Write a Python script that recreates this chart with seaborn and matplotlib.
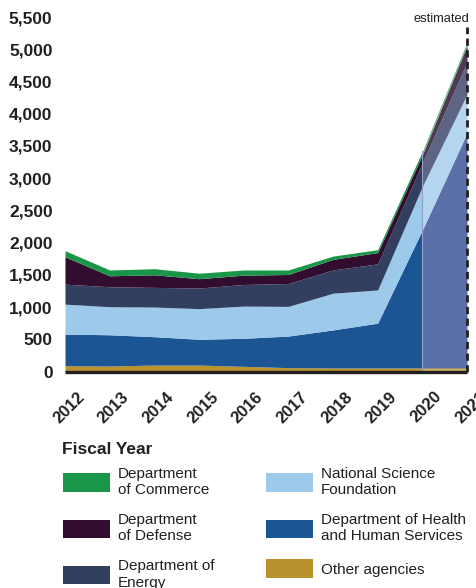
import matplotlib
matplotlib.use("Agg")
import matplotlib.pyplot as plt
import matplotlib.transforms as mtransforms
from matplotlib.patches import Patch
import numpy as np
import seaborn as sns

# Funding by agency, millions of dollars (2021 is an estimate)
years = [2012, 2013, 2014, 2015, 2016, 2017, 2018, 2019, 2020, 2021]
other_agencies = [90, 85, 100, 100, 80, 60, 55, 55, 55, 55]
hhs = [490, 485, 440, 400, 435, 490, 590, 695, 2140, 3645]
nsf = [465, 435, 460, 475, 500, 460, 570, 515, 675, 600]
energy = [310, 310, 305, 320, 335, 355, 360, 405, 365, 500]
defense = [425, 170, 195, 145, 145, 140, 165, 175, 125, 260]
commerce = [95, 90, 95, 85, 80, 70, 50, 45, 55, 50]

yticks = [0, 500, 1000, 1500, 2000, 2500, 3000, 3500, 4000, 4500, 5000, 5500]
estimate_start = 2020

series = [other_agencies, hhs, nsf, energy, defense, commerce]
names = ["Other agencies", "Department of Health\nand Human Services",
         "National Science\nFoundation", "Department of\nEnergy",
         "Department\nof Defense", "Department\nof Commerce"]
colors = ["#B8922E", "#1B5594", "#9DC9EA", "#333F60", "#330D2F", "#1A9648"]
est_colors = ["#CCAE5E", "#5B70A8", "#B4D5EF", "#5E6484", "#4E3A55", "#6DB383"]

sns.set_theme(style="white")
plt.rcParams["font.family"] = ["Liberation Sans", "DejaVu Sans"]
ink = "#231F20"

fig = plt.figure(figsize=(4.76, 5.88), dpi=100)
ax = fig.add_axes([65 / 476, 1 - 371.5 / 588, 402 / 476, 354.5 / 588])

k = years.index(estimate_start)
ax.stackplot(years[:k + 1], *[s[:k + 1] for s in series], colors=colors,
             linewidth=0)
ax.stackplot(years[k:], *[s[k:] for s in series], colors=est_colors,
             linewidth=0)
total = np.sum(series, axis=0)
ax.plot([estimate_start, estimate_start], [0, total[k]], color="#8FA3C8",
        lw=0.8)

# baseline and the dashed marker for estimated values
ax.plot([years[0], years[-1]], [0, 0], color=ink, lw=2.4,
        solid_capstyle="butt", clip_on=False)
ax.plot([years[-1], years[-1]], [0, 5350], color=ink, lw=2,
        ls=(0, (2.6, 1.6)), clip_on=False)
ax.text(years[-1] + 0.05, 5470, "estimated", ha="right", va="center",
        fontsize=9.3, color=ink)

ax.set_xlim(years[0], years[-1])
ax.set_ylim(0, 5500)
ax.set_yticks(yticks)
ax.set_yticklabels([f"{v:,}" for v in yticks], fontsize=12.5,
                   fontweight="bold", color=ink)
ax.set_xticks(years)
ax.set_xticklabels([str(y) for y in years], rotation=45, ha="center",
                   va="top", fontsize=12, fontweight="bold", color=ink)
ax.tick_params(axis="y", length=0, pad=9)
ax.tick_params(axis="x", length=0, pad=9)
shift = mtransforms.ScaledTranslation(4 / 100, -5 / 100, fig.dpi_scale_trans)
for lbl in ax.get_xticklabels():
    lbl.set_transform(lbl.get_transform() + shift)
sns.despine(ax=ax, left=True, bottom=True)
ax.set_facecolor("none")
ax.grid(False)

fig.text(62 / 476, 1 - 450 / 588, "Fiscal Year", ha="left", va="center",
         fontsize=12.5, fontweight="bold", color=ink)

order = [5, 4, 3, 2, 1, 0]
handles = [Patch(facecolor=colors[i], edgecolor="none") for i in order]
labels = [names[i] for i in order]
fig.legend(handles, labels, loc="upper left",
           bbox_to_anchor=(63 / 476, 1 - 467 / 588), ncol=2, frameon=False,
           borderpad=0, borderaxespad=0, fontsize=11, handlelength=3.1,
           handleheight=1.45, handletextpad=0.5, columnspacing=3.35,
           labelspacing=1.05, labelcolor=ink)

fig.savefig("out.png", dpi=100)
